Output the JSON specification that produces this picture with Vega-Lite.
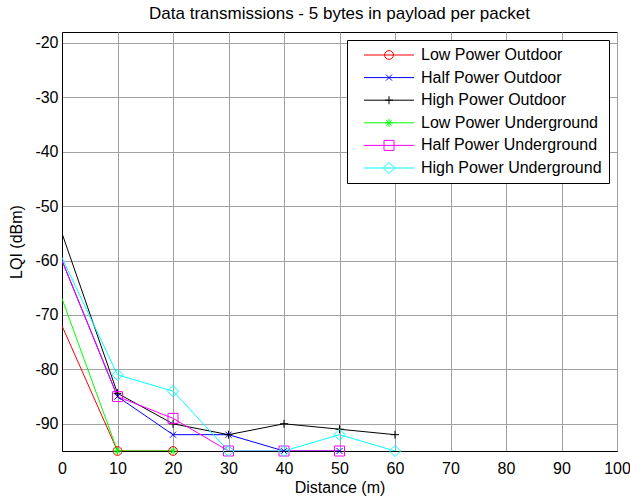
{
  "$schema": "https://vega.github.io/schema/vega-lite/v6.json",
  "width": 555,
  "height": 419,
  "autosize": {"type": "none"},
  "padding": {"left": 62, "top": 32, "right": 13, "bottom": 46},
  "background": "white",
  "title": {"text": "Data transmissions - 5 bytes in payload per packet", "fontSize": 17, "fontWeight": "normal", "font": "Liberation Sans", "color": "black", "offset": 9},
  "config": {
    "font": "Liberation Sans",
    "view": {"stroke": "black", "strokeWidth": 1},
    "axis": {"labelFont": "Liberation Sans", "labelFontSize": 16, "labelColor": "black", "titleFont": "Liberation Sans", "titleFontSize": 16, "titleFontWeight": "normal", "titleColor": "black", "gridColor": "#a0a0a0", "gridWidth": 1, "gridOpacity": 1, "domainColor": "black", "ticks": false},
    "legend": {"labelFont": "Liberation Sans", "labelFontSize": 16, "labelColor": "black", "labelLimit": 0}
  },
  "data": {
    "values": [
      {"series": "Low Power Outdoor", "distance": 0, "lqi": -72},
      {"series": "Low Power Outdoor", "distance": 10, "lqi": -95},
      {"series": "Low Power Outdoor", "distance": 20, "lqi": -95},
      {"series": "Half Power Outdoor", "distance": 0, "lqi": -60},
      {"series": "Half Power Outdoor", "distance": 10, "lqi": -85},
      {"series": "Half Power Outdoor", "distance": 20, "lqi": -92},
      {"series": "Half Power Outdoor", "distance": 30, "lqi": -92},
      {"series": "Half Power Outdoor", "distance": 40, "lqi": -95},
      {"series": "Half Power Outdoor", "distance": 50, "lqi": -95},
      {"series": "High Power Outdoor", "distance": 0, "lqi": -55},
      {"series": "High Power Outdoor", "distance": 10, "lqi": -84.4},
      {"series": "High Power Outdoor", "distance": 20, "lqi": -90},
      {"series": "High Power Outdoor", "distance": 30, "lqi": -92},
      {"series": "High Power Outdoor", "distance": 40, "lqi": -90},
      {"series": "High Power Outdoor", "distance": 50, "lqi": -91},
      {"series": "High Power Outdoor", "distance": 60, "lqi": -92},
      {"series": "Low Power Underground", "distance": 0, "lqi": -67},
      {"series": "Low Power Underground", "distance": 10, "lqi": -95},
      {"series": "Low Power Underground", "distance": 20, "lqi": -95},
      {"series": "Half Power Underground", "distance": 0, "lqi": -60},
      {"series": "Half Power Underground", "distance": 10, "lqi": -85},
      {"series": "Half Power Underground", "distance": 20, "lqi": -89},
      {"series": "Half Power Underground", "distance": 30, "lqi": -95},
      {"series": "Half Power Underground", "distance": 40, "lqi": -95},
      {"series": "Half Power Underground", "distance": 50, "lqi": -95},
      {"series": "High Power Underground", "distance": 0, "lqi": -59.5},
      {"series": "High Power Underground", "distance": 10, "lqi": -81},
      {"series": "High Power Underground", "distance": 20, "lqi": -84},
      {"series": "High Power Underground", "distance": 30, "lqi": -95},
      {"series": "High Power Underground", "distance": 40, "lqi": -95},
      {"series": "High Power Underground", "distance": 50, "lqi": -92},
      {"series": "High Power Underground", "distance": 60, "lqi": -95}
    ]
  },
  "encoding": {
    "x": {"field": "distance", "type": "quantitative", "title": "Distance (m)",
      "scale": {"domain": [0, 100], "nice": false},
      "axis": {"values": [0,10,20,30,40,50,60,70,80,90,100], "labelPadding": 9, "titlePadding": 3, "labelFlush": false}},
    "y": {"field": "lqi", "type": "quantitative", "title": "LQI (dBm)",
      "scale": {"domain": [-95, -18], "nice": false, "zero": false},
      "axis": {"values": [-90,-80,-70,-60,-50,-40,-30,-20], "labelExpr": "'' + datum.value", "labelPadding": 4, "titlePadding": 10}},
    "color": {"field": "series", "type": "nominal",
      "scale": {"domain": ["Low Power Outdoor", "Half Power Outdoor", "High Power Outdoor", "Low Power Underground", "Half Power Underground", "High Power Underground"],
        "range": ["#ff0000", "#0000ff", "#000000", "#00ff00", "#ff00ff", "#00ffff"]},
      "legend": {
        "title": null,
        "orient": "top-right",
        "offset": 8,
        "strokeColor": "black",
        "fillColor": "white",
        "padding": 7,
        "rowPadding": 6.6,
        "symbolOffset": 27,
        "labelOffset": 24,
        "symbolStrokeWidth": 1,
        "symbolSize": 64,
        "symbolFillColor": "transparent",
        "symbolType": {"expr": "'M-6.25,0L6.25,0' + (datum.value == 'Low Power Outdoor' ? 'M-1.1,0A1.1,1.1 0 1,1 1.1,0A1.1,1.1 0 1,1 -1.1,0Z' : datum.value == 'Half Power Outdoor' ? 'M-0.75,-0.75L0.75,0.75M-0.75,0.75L0.75,-0.75' : datum.value == 'High Power Outdoor' ? 'M-1,0L1,0M0,-1L0,1' : datum.value == 'Low Power Underground' ? 'M-1,0L1,0M0,-1L0,1M-0.7,-0.7L0.7,0.7M-0.7,0.7L0.7,-0.7' : datum.value == 'Half Power Underground' ? 'M-1.25,-1.25L1.25,-1.25L1.25,1.25L-1.25,1.25Z' : 'M0,-1.4L1.4,0L0,1.4L-1.4,0Z')"}
      }}
  },
  "layer": [
    {
      "mark": {"type": "line", "strokeWidth": 1, "clip": true},
      "encoding": {}
    },
    {
      "transform": [{"filter": "datum.distance > 0"}],
      "mark": {"type": "point", "filled": false, "strokeWidth": 1, "size": 64, "opacity": 1,
        "shape": {"expr": "datum.series == 'Low Power Outdoor' ? 'M-1.1,0A1.1,1.1 0 1,1 1.1,0A1.1,1.1 0 1,1 -1.1,0Z' : datum.series == 'Half Power Outdoor' ? 'M-0.75,-0.75L0.75,0.75M-0.75,0.75L0.75,-0.75' : datum.series == 'High Power Outdoor' ? 'M-1,0L1,0M0,-1L0,1' : datum.series == 'Low Power Underground' ? 'M-1,0L1,0M0,-1L0,1M-0.7,-0.7L0.7,0.7M-0.7,0.7L0.7,-0.7' : datum.series == 'Half Power Underground' ? 'M-1.25,-1.25L1.25,-1.25L1.25,1.25L-1.25,1.25Z' : 'M0,-1.4L1.4,0L0,1.4L-1.4,0Z'"}},
      "encoding": {}
    }
  ]
}
